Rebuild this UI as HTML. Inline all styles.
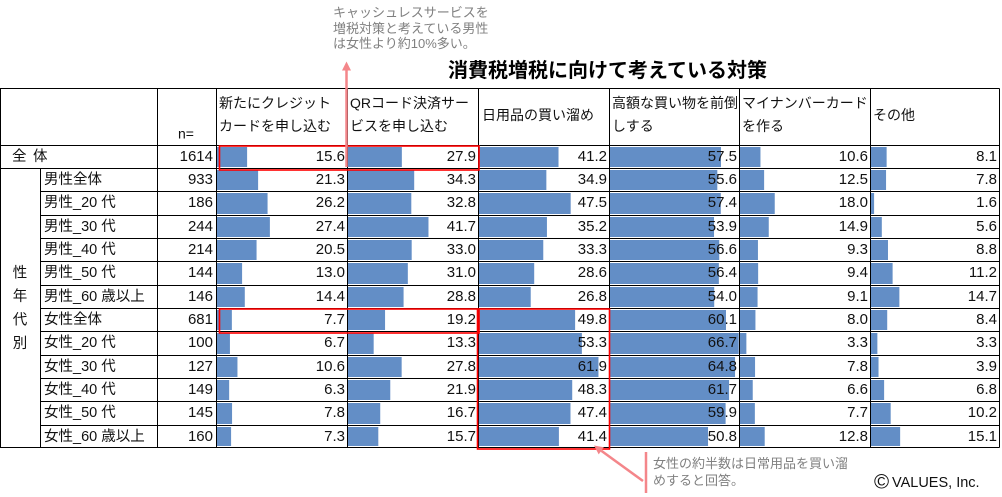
<!DOCTYPE html>
<html><head><meta charset="utf-8">
<style>
html,body{margin:0;padding:0;background:#fff;width:1002px;height:497px;overflow:hidden}
svg{display:block}
.n{font-family:"Liberation Sans","Noto Sans CJK JP",sans-serif;font-size:15px;fill:#111}
.l{font-family:"Liberation Sans","Noto Sans CJK JP",sans-serif;font-size:14.5px;fill:#111}
.h{font-family:"Liberation Sans","Noto Sans CJK JP",sans-serif;font-size:14px;fill:#111}
.a{font-family:"Liberation Sans","Noto Sans CJK JP",sans-serif;font-size:13px;fill:#808080}
</style></head><body>
<svg width="1002" height="497" viewBox="0 0 1002 497" xmlns="http://www.w3.org/2000/svg">
<rect x="0" y="0" width="1002" height="497" fill="#fff"/>

<!-- annotation top -->
<text class="a" x="333" y="17">キャッシュレスサービスを</text>
<text class="a" x="333" y="33">増税対策と考えている男性</text>
<text class="a" x="333" y="48">は女性より約10%多い。</text>

<!-- title -->
<text x="448" y="77" font-family="'Liberation Sans','Noto Sans CJK JP',sans-serif" font-size="20" font-weight="700" fill="#000">消費税増税に向けて考えている対策</text>

<!-- bars -->
<g fill="#638ec6">
<g transform="translate(217,0) scale(1.93,1)">
<rect x="0" y="147" width="15.6" height="20"/>
<rect x="0" y="170" width="21.3" height="20"/>
<rect x="0" y="193" width="26.2" height="21"/>
<rect x="0" y="217" width="27.4" height="20"/>
<rect x="0" y="240" width="20.5" height="20"/>
<rect x="0" y="263" width="13.0" height="21"/>
<rect x="0" y="287" width="14.4" height="20"/>
<rect x="0" y="310" width="7.7" height="20"/>
<rect x="0" y="333" width="6.7" height="21"/>
<rect x="0" y="357" width="10.6" height="20"/>
<rect x="0" y="380" width="6.3" height="20"/>
<rect x="0" y="403" width="7.8" height="21"/>
<rect x="0" y="427" width="7.3" height="19"/>
</g>
<g transform="translate(348,0) scale(1.93,1)">
<rect x="0" y="147" width="27.9" height="20"/>
<rect x="0" y="170" width="34.3" height="20"/>
<rect x="0" y="193" width="32.8" height="21"/>
<rect x="0" y="217" width="41.7" height="20"/>
<rect x="0" y="240" width="33.0" height="20"/>
<rect x="0" y="263" width="31.0" height="21"/>
<rect x="0" y="287" width="28.8" height="20"/>
<rect x="0" y="310" width="19.2" height="20"/>
<rect x="0" y="333" width="13.3" height="21"/>
<rect x="0" y="357" width="27.8" height="20"/>
<rect x="0" y="380" width="21.9" height="20"/>
<rect x="0" y="403" width="16.7" height="21"/>
<rect x="0" y="427" width="15.7" height="19"/>
</g>
<g transform="translate(479,0) scale(1.93,1)">
<rect x="0" y="147" width="41.2" height="20"/>
<rect x="0" y="170" width="34.9" height="20"/>
<rect x="0" y="193" width="47.5" height="21"/>
<rect x="0" y="217" width="35.2" height="20"/>
<rect x="0" y="240" width="33.3" height="20"/>
<rect x="0" y="263" width="28.6" height="21"/>
<rect x="0" y="287" width="26.8" height="20"/>
<rect x="0" y="310" width="49.8" height="20"/>
<rect x="0" y="333" width="53.3" height="21"/>
<rect x="0" y="357" width="61.9" height="20"/>
<rect x="0" y="380" width="48.3" height="20"/>
<rect x="0" y="403" width="47.4" height="21"/>
<rect x="0" y="427" width="41.4" height="19"/>
</g>
<g transform="translate(610,0) scale(1.93,1)">
<rect x="0" y="147" width="57.5" height="20"/>
<rect x="0" y="170" width="55.6" height="20"/>
<rect x="0" y="193" width="57.4" height="21"/>
<rect x="0" y="217" width="53.9" height="20"/>
<rect x="0" y="240" width="56.6" height="20"/>
<rect x="0" y="263" width="56.4" height="21"/>
<rect x="0" y="287" width="54.0" height="20"/>
<rect x="0" y="310" width="60.1" height="20"/>
<rect x="0" y="333" width="66.7" height="21"/>
<rect x="0" y="357" width="64.8" height="20"/>
<rect x="0" y="380" width="61.7" height="20"/>
<rect x="0" y="403" width="59.9" height="21"/>
<rect x="0" y="427" width="50.8" height="19"/>
</g>
<g transform="translate(740,0) scale(1.93,1)">
<rect x="0" y="147" width="10.6" height="20"/>
<rect x="0" y="170" width="12.5" height="20"/>
<rect x="0" y="193" width="18.0" height="21"/>
<rect x="0" y="217" width="14.9" height="20"/>
<rect x="0" y="240" width="9.3" height="20"/>
<rect x="0" y="263" width="9.4" height="21"/>
<rect x="0" y="287" width="9.1" height="20"/>
<rect x="0" y="310" width="8.0" height="20"/>
<rect x="0" y="333" width="3.3" height="21"/>
<rect x="0" y="357" width="7.8" height="20"/>
<rect x="0" y="380" width="6.6" height="20"/>
<rect x="0" y="403" width="7.7" height="21"/>
<rect x="0" y="427" width="12.8" height="19"/>
</g>
<g transform="translate(871,0) scale(1.93,1)">
<rect x="0" y="147" width="8.1" height="20"/>
<rect x="0" y="170" width="7.8" height="20"/>
<rect x="0" y="193" width="1.6" height="21"/>
<rect x="0" y="217" width="5.6" height="20"/>
<rect x="0" y="240" width="8.8" height="20"/>
<rect x="0" y="263" width="11.2" height="21"/>
<rect x="0" y="287" width="14.7" height="20"/>
<rect x="0" y="310" width="8.4" height="20"/>
<rect x="0" y="333" width="3.3" height="21"/>
<rect x="0" y="357" width="3.9" height="20"/>
<rect x="0" y="380" width="6.8" height="20"/>
<rect x="0" y="403" width="10.2" height="21"/>
<rect x="0" y="427" width="15.1" height="19"/>
</g>
</g>

<!-- grid lines -->
<path fill="none" stroke="#000" stroke-width="1" d="
M0 88.5H999.5 M0 145.5H999.5 M0 168.5H999.5
M40.5 191.5H999.5 M40.5 215.5H999.5 M40.5 238.5H999.5 M40.5 261.5H999.5 M40.5 285.5H999.5
M40.5 308.5H999.5 M40.5 331.5H999.5 M40.5 355.5H999.5 M40.5 378.5H999.5 M40.5 401.5H999.5 M40.5 425.5H999.5
M0 447.5H999.5
M0.5 88.5V447.5 M40.5 168.5V447.5 M157.5 88.5V447.5 M216.5 88.5V447.5 M347.5 88.5V447.5
M478.5 88.5V447.5 M609.5 88.5V447.5 M739.5 88.5V447.5 M870.5 88.5V447.5 M999.5 88.5V447.5"/>

<!-- header -->
<text class="h" x="219" y="108">新たにクレジット</text>
<text class="h" x="219" y="131">カードを申し込む</text>
<text class="h" x="350" y="108">QRコード決済サー</text>
<text class="h" x="350" y="131">ビスを申し込む</text>
<text class="h" x="482" y="120">日用品の買い溜め</text>
<text class="h" x="612" y="108">高額な買い物を前倒</text>
<text class="h" x="612" y="131">しする</text>
<text class="h" x="742" y="108">マイナンバーカード</text>
<text class="h" x="742" y="131">を作る</text>
<text class="h" x="873" y="120">その他</text>
<text class="h" x="178" y="138.5">n=</text>

<!-- row labels -->
<text class="l" x="12" y="161">全</text>
<text class="l" x="33" y="161">体</text>
<text class="l" x="44" y="184">男性全体</text>
<text class="l" x="44" y="207">男性_20 代</text>
<text class="l" x="44" y="231">男性_30 代</text>
<text class="l" x="44" y="254">男性_40 代</text>
<text class="l" x="44" y="277">男性_50 代</text>
<text class="l" x="44" y="301">男性_60 歳以上</text>
<text class="l" x="44" y="324">女性全体</text>
<text class="l" x="44" y="347">女性_20 代</text>
<text class="l" x="44" y="371">女性_30 代</text>
<text class="l" x="44" y="394">女性_40 代</text>
<text class="l" x="44" y="417">女性_50 代</text>
<text class="l" x="44" y="441">女性_60 歳以上</text>
<text class="l" x="20" y="277.5" text-anchor="middle">性</text>
<text class="l" x="20" y="301" text-anchor="middle">年</text>
<text class="l" x="20" y="324.5" text-anchor="middle">代</text>
<text class="l" x="20" y="348" text-anchor="middle">別</text>

<!-- n values -->
<g text-anchor="end">
<text class="n" x="213" y="161">1614</text>
<text class="n" x="213" y="184">933</text>
<text class="n" x="213" y="207">186</text>
<text class="n" x="213" y="231">244</text>
<text class="n" x="213" y="254">214</text>
<text class="n" x="213" y="277">144</text>
<text class="n" x="213" y="301">146</text>
<text class="n" x="213" y="324">681</text>
<text class="n" x="213" y="347">100</text>
<text class="n" x="213" y="371">127</text>
<text class="n" x="213" y="394">149</text>
<text class="n" x="213" y="417">145</text>
<text class="n" x="213" y="441">160</text>
</g>

<!-- values -->
<g text-anchor="end">
<text class="n" x="345" y="161">15.6</text><text class="n" x="476" y="161">27.9</text><text class="n" x="607" y="161">41.2</text><text class="n" x="737" y="161">57.5</text><text class="n" x="868" y="161">10.6</text><text class="n" x="997" y="161">8.1</text>
<text class="n" x="345" y="184">21.3</text><text class="n" x="476" y="184">34.3</text><text class="n" x="607" y="184">34.9</text><text class="n" x="737" y="184">55.6</text><text class="n" x="868" y="184">12.5</text><text class="n" x="997" y="184">7.8</text>
<text class="n" x="345" y="207">26.2</text><text class="n" x="476" y="207">32.8</text><text class="n" x="607" y="207">47.5</text><text class="n" x="737" y="207">57.4</text><text class="n" x="868" y="207">18.0</text><text class="n" x="997" y="207">1.6</text>
<text class="n" x="345" y="231">27.4</text><text class="n" x="476" y="231">41.7</text><text class="n" x="607" y="231">35.2</text><text class="n" x="737" y="231">53.9</text><text class="n" x="868" y="231">14.9</text><text class="n" x="997" y="231">5.6</text>
<text class="n" x="345" y="254">20.5</text><text class="n" x="476" y="254">33.0</text><text class="n" x="607" y="254">33.3</text><text class="n" x="737" y="254">56.6</text><text class="n" x="868" y="254">9.3</text><text class="n" x="997" y="254">8.8</text>
<text class="n" x="345" y="277">13.0</text><text class="n" x="476" y="277">31.0</text><text class="n" x="607" y="277">28.6</text><text class="n" x="737" y="277">56.4</text><text class="n" x="868" y="277">9.4</text><text class="n" x="997" y="277">11.2</text>
<text class="n" x="345" y="301">14.4</text><text class="n" x="476" y="301">28.8</text><text class="n" x="607" y="301">26.8</text><text class="n" x="737" y="301">54.0</text><text class="n" x="868" y="301">9.1</text><text class="n" x="997" y="301">14.7</text>
<text class="n" x="345" y="324">7.7</text><text class="n" x="476" y="324">19.2</text><text class="n" x="607" y="324">49.8</text><text class="n" x="737" y="324">60.1</text><text class="n" x="868" y="324">8.0</text><text class="n" x="997" y="324">8.4</text>
<text class="n" x="345" y="347">6.7</text><text class="n" x="476" y="347">13.3</text><text class="n" x="607" y="347">53.3</text><text class="n" x="737" y="347">66.7</text><text class="n" x="868" y="347">3.3</text><text class="n" x="997" y="347">3.3</text>
<text class="n" x="345" y="371">10.6</text><text class="n" x="476" y="371">27.8</text><text class="n" x="607" y="371">61.9</text><text class="n" x="737" y="371">64.8</text><text class="n" x="868" y="371">7.8</text><text class="n" x="997" y="371">3.9</text>
<text class="n" x="345" y="394">6.3</text><text class="n" x="476" y="394">21.9</text><text class="n" x="607" y="394">48.3</text><text class="n" x="737" y="394">61.7</text><text class="n" x="868" y="394">6.6</text><text class="n" x="997" y="394">6.8</text>
<text class="n" x="345" y="417">7.8</text><text class="n" x="476" y="417">16.7</text><text class="n" x="607" y="417">47.4</text><text class="n" x="737" y="417">59.9</text><text class="n" x="868" y="417">7.7</text><text class="n" x="997" y="417">10.2</text>
<text class="n" x="345" y="441">7.3</text><text class="n" x="476" y="441">15.7</text><text class="n" x="607" y="441">41.4</text><text class="n" x="737" y="441">50.8</text><text class="n" x="868" y="441">12.8</text><text class="n" x="997" y="441">15.1</text>
</g>

<!-- red boxes -->
<g fill="none" stroke="#ff0000" stroke-width="1.6">
<rect x="219.5" y="146" width="259.5" height="24"/>
<rect x="219.5" y="309" width="259.5" height="24"/>
<rect x="477.5" y="309" width="132" height="140"/>
</g>

<!-- top arrow -->
<line x1="346.5" y1="70" x2="346.5" y2="167" stroke="#f4868a" stroke-width="2.5"/>
<polygon points="346.5,61.5 342,70.5 351,70.5" fill="#f4868a"/>

<!-- bottom annotation -->
<line x1="646" y1="452" x2="646" y2="493" stroke="#f4868a" stroke-width="2.5"/>
<line x1="643" y1="481" x2="601.3" y2="450.8" stroke="#f4868a" stroke-width="2.5"/>
<polygon points="594,445.5 603.9,447.2 598.7,454.4" fill="#f4868a"/>
<text class="a" x="653" y="468">女性の約半数は日常用品を買い溜</text>
<text class="a" x="653" y="485">めすると回答。</text>

<!-- copyright -->
<text x="874" y="488.5" font-family="'Liberation Sans',sans-serif" font-size="20.5" fill="#111">©</text>
<text x="892" y="487" font-family="'Liberation Sans',sans-serif" font-size="14.5" fill="#111">VALUES, Inc.</text>
</svg>
</body></html>
